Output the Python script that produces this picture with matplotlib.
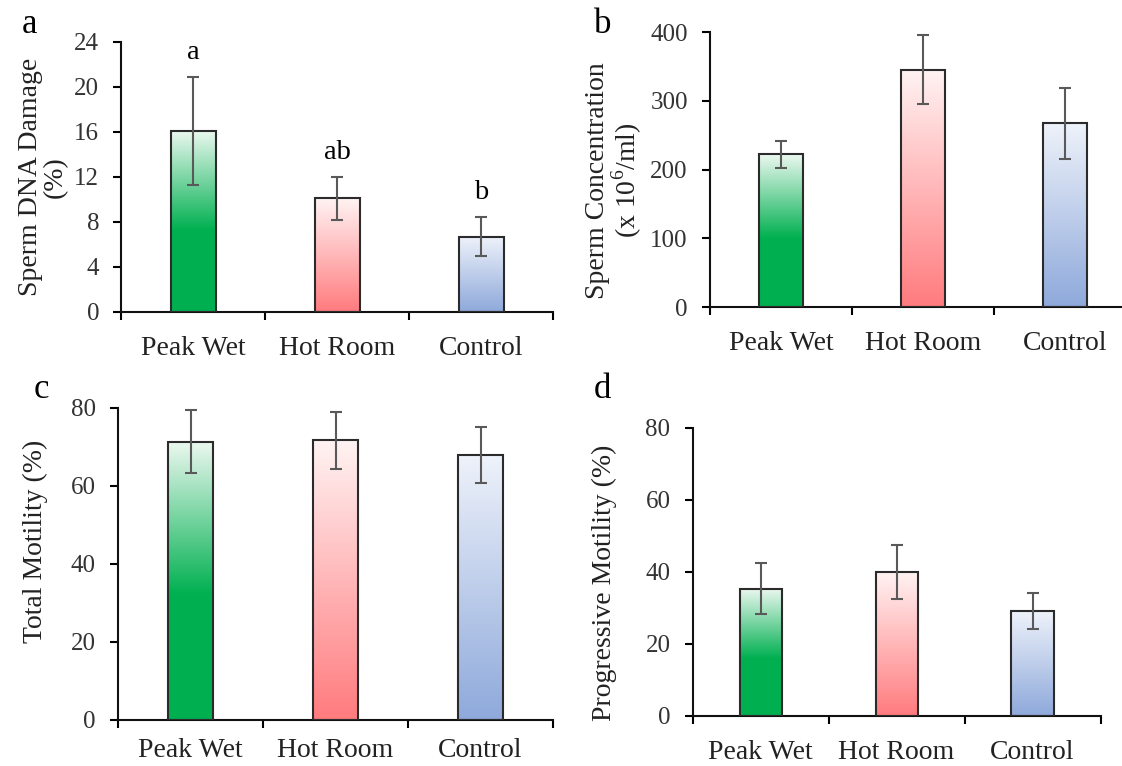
import numpy as np
import matplotlib
matplotlib.use('Agg')
import matplotlib.pyplot as plt
from matplotlib.colors import LinearSegmentedColormap

plt.rcParams['font.family'] = ['Liberation Serif', 'DejaVu Serif']
plt.rcParams['mathtext.fontset'] = 'custom'
plt.rcParams['mathtext.rm'] = 'Liberation Serif'

groups = ['Peak Wet', 'Hot Room', 'Control']

dna_mean = [16.1, 10.1, 6.7]
dna_err = [4.8, 1.9, 1.7]
dna_letters = ['a', 'ab', 'b']

conc_mean = [222, 345, 267]
conc_err = [20, 50, 52]

total_mean = [71.3, 71.7, 67.9]
total_err = [8.1, 7.3, 7.2]

prog_mean = [35.3, 40.1, 29.1]
prog_err = [7.1, 7.5, 5.0]

# gradient fills (bottom -> top), like the excel bars
cmaps = [
    LinearSegmentedColormap.from_list('g', [(0, '#00B050'), (0.45, '#00B050'), (1, '#ECF8F0')]),
    LinearSegmentedColormap.from_list('r', [(0, '#FF7B7E'), (1, '#FFF3F3')]),
    LinearSegmentedColormap.from_list('b', [(0, '#8EA9DB'), (1, '#EEF2FA')]),
]
grad = np.linspace(0, 1, 256).reshape(-1, 1)


def panel(rect, means, errs, ymax, ystep, ylabel, lab_xy, letter, letter_xy, xpad=17):
    ax = fig.add_axes(rect)
    x = np.arange(len(groups))
    bars = ax.bar(x, means, width=0.31, facecolor='none', edgecolor='#2b2b2b',
                  linewidth=1.5, zorder=3)
    for b, cm in zip(bars, cmaps):
        x0, w, h = b.get_x(), b.get_width(), b.get_height()
        im = ax.imshow(grad, cmap=cm, origin='lower', aspect='auto',
                       extent=[x0, x0 + w, 0, h], zorder=2)
        im.set_clip_path(b)
    ax.errorbar(x, means, yerr=errs, fmt='none', ecolor='#595959',
                elinewidth=1.5, capsize=4.5, capthick=1.5, zorder=4)
    ax.set_xlim(-0.5, len(groups) - 0.5)
    ax.set_ylim(0, ymax)
    ax.set_yticks(np.arange(0, ymax + 0.001, ystep))
    ax.set_xticks(np.arange(-0.5, len(groups), 1.0))
    ax.set_xticklabels([])
    ax.set_xticks(x, minor=True)
    ax.set_xticklabels(groups, minor=True)
    ax.tick_params(axis='x', which='minor', length=0, pad=xpad, labelsize=20,
                   labelcolor='#222222')
    ax.tick_params(axis='x', which='major', direction='out', length=5.5, width=1.5)
    ax.tick_params(axis='y', direction='out', length=5.5, width=1.5, pad=10.5,
                   labelsize=18, labelcolor='#333333')
    for s in ['top', 'right']:
        ax.spines[s].set_visible(False)
    for s in ['left', 'bottom']:
        ax.spines[s].set_linewidth(1.5)
        ax.spines[s].set_color('#111111')
    ax.set_ylabel(ylabel, fontsize=20, linespacing=1.0, color='#222222')
    ax.yaxis.set_label_coords(*lab_xy)
    fig.text(letter_xy[0], letter_xy[1], letter, fontsize=25, ha='left', va='baseline')
    return ax, x


fig = plt.figure(figsize=(11.22, 7.66), dpi=100)

ax, x = panel([0.1082, 0.5927, 0.385, 0.3525], dna_mean, dna_err, 24, 4,
              'Sperm DNA Damage\n(%)', (-0.124, 0.5), 'a', (0.0196, 0.957))
for xi, m, e, t in zip(x, dna_mean, dna_err, dna_letters):
    ax.text(xi, m + e + 1.6, t, ha='center', va='baseline', fontsize=20.5)

panel([0.6328, 0.5992, 0.3797, 0.359], conc_mean, conc_err, 400, 100,
      'Sperm Concentration\n(x 10$^{6}$/ml)', (-0.155, 0.46), 'b', (0.5294, 0.957))

panel([0.1052, 0.0601, 0.3877, 0.4073], total_mean, total_err, 80, 20,
      'Total Motility (%)', (-0.16, 0.574), 'c', (0.0303, 0.4804), xpad=13)

panel([0.6173, 0.0653, 0.3636, 0.376], prog_mean, prog_err, 80, 20,
      'Progressive Motility (%)', (-0.185, 0.462), 'd', (0.5294, 0.4804))

plt.savefig('out.png', dpi=100)
